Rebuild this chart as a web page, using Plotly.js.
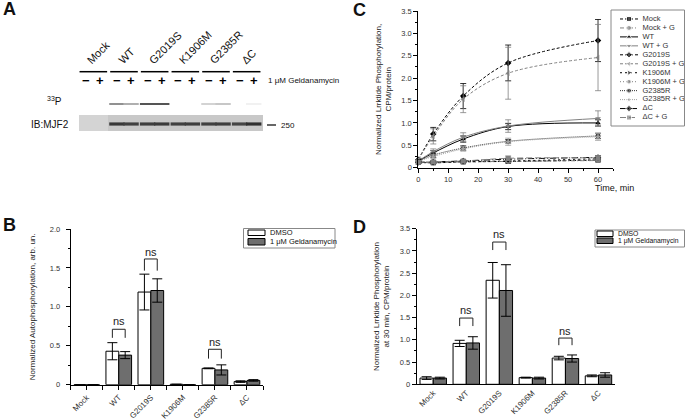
<!DOCTYPE html>
<html><head><meta charset="utf-8">
<script src="https://cdn.plot.ly/plotly-3.0.1.min.js"></script>
<style>html,body{margin:0;padding:0;background:#fff}#chart{width:686px;height:420px}</style>
</head><body><div id="chart"></div>
<script>
// ---------- Panel A: blot lanes ----------
const blotGroups = ['Mock', 'WT', 'G2019S', 'K1906M', 'G2385R', 'ΔC'];
const blotTreatments = ['−', '+'];
const p33Intensity = [0, 0, 0.55, 0.40, 0.85, 0.85, 0, 0, 0.22, 0.28, 0, 0.07];
const mjf2Intensity = [0, 0, 0.90, 0.85, 0.86, 0.88, 0.85, 0.86, 0.85, 0.86, 0.82, 0.95];

// ---------- Panel B: autophosphorylation ----------
const barCategories = ['Mock', 'WT', 'G2019S', 'K1906M', 'G2385R', 'ΔC'];
const autoDMSO = [0, 0.43, 1.19, 0.005, 0.21, 0.04];
const autoDMSOErr = [0, 0.11, 0.23, 0, 0.005, 0.01];
const autoGeld = [0, 0.38, 1.21, 0, 0.19, 0.055];
const autoGeldErr = [0, 0.045, 0.15, 0, 0.065, 0.01];

// ---------- Panel C: Lrrktide time course ----------
const timeMin = [0, 5, 15, 30, 60];
const kinMock = [0.12, 0.11, 0.13, 0.14, 0.17];
const kinMockG = [0.11, 0.11, 0.13, 0.14, 0.16];
const kinWT = [0.15, 0.33, 0.64, 0.92, 1.00];
const kinWTG = [0.15, 0.36, 0.68, 0.93, 1.10];
const kinG2019S = [0.18, 0.75, 1.60, 2.34, 2.84];
const kinG2019SG = [0.18, 0.70, 1.53, 2.11, 2.46];
const kinK1906M = [0.12, 0.12, 0.14, 0.15, 0.20];
const kinK1906MG = [0.12, 0.12, 0.14, 0.14, 0.18];
const kinG2385R = [0.14, 0.28, 0.44, 0.59, 0.71];
const kinG2385RG = [0.14, 0.25, 0.42, 0.58, 0.69];
const kinDC = [0.12, 0.13, 0.15, 0.19, 0.23];
const kinDCG = [0.12, 0.13, 0.15, 0.21, 0.22];
const errMock = [0.02, 0.02, 0.02, 0.03, 0.03];
const errMockG = [0.02, 0.02, 0.02, 0.02, 0.03];
const errWT = [0.02, 0.05, 0.07, 0.07, 0.07];
const errWTG = [0.02, 0.06, 0.10, 0.14, 0.17];
const errG2019S = [0.03, 0.15, 0.28, 0.40, 0.47];
const errG2019SG = [0.03, 0.17, 0.30, 0.58, 0.74];
const errK1906M = [0.02, 0.02, 0.02, 0.01, 0.03];
const errK1906MG = [0.02, 0.02, 0.02, 0.02, 0.03];
const errG2385R = [0.02, 0.05, 0.05, 0.04, 0.06];
const errG2385RG = [0.02, 0.04, 0.05, 0.08, 0.08];
const errDC = [0.02, 0.02, 0.02, 0.02, 0.04];
const errDCG = [0.02, 0.02, 0.02, 0.05, 0.05];
const kinNames = ['Mock', 'Mock + G', 'WT', 'WT + G', 'G2019S', 'G2019S + G', 'K1906M', 'K1906M + G', 'G2385R', 'G2385R + G', 'ΔC', 'ΔC + G'];

// ---------- Panel D: Lrrktide at 30 min ----------
const ltkDMSO = [0.14, 0.92, 2.34, 0.15, 0.59, 0.19];
const ltkDMSOErr = [0.03, 0.07, 0.40, 0.01, 0.04, 0.02];
const ltkGeld = [0.14, 0.93, 2.11, 0.14, 0.58, 0.21];
const ltkGeldErr = [0.02, 0.14, 0.58, 0.02, 0.08, 0.05];
const legendNames = ['DMSO', '1 μM Geldanamycin'];

// ---------- styles & helpers ----------
const W = 686, H = 420;
const PX = x => x / W;
const PY = y => 1 - y / H;
const FONT = 'Liberation Sans, Arial, sans-serif';
const DARK = '#000000', GREY = '#808080';
const whiteBar = '#ffffff', greyBar = '#6e6e6e';
const kinStyle = [
  {c: DARK, dash: '3px,2px', sym: 'square'},
  {c: GREY, dash: '4px,2px,1px,2px', sym: 'circle'},
  {c: DARK, dash: 'solid', sym: 'triangle-up'},
  {c: GREY, dash: 'solid', sym: 'triangle-down'},
  {c: DARK, dash: '3px,2px', sym: 'diamond'},
  {c: GREY, dash: '3px,2px', sym: 'triangle-left'},
  {c: DARK, dash: '2px,3px', sym: 'triangle-right'},
  {c: GREY, dash: '1px,2px', sym: 'hexagon'},
  {c: '#303030', dash: '1px,1px', sym: 'circle'},
  {c: '#a0a0a0', dash: '1px,1px', sym: 'star'},
  {c: DARK, dash: '6px,2px,1px,2px', sym: 'diamond'},
  {c: GREY, dash: '6px,3px', sym: 'square'}
];
const kinVals = [kinMock, kinMockG, kinWT, kinWTG, kinG2019S, kinG2019SG, kinK1906M, kinK1906MG, kinG2385R, kinG2385RG, kinDC, kinDCG];
const kinErrs = [errMock, errMockG, errWT, errWTG, errG2019S, errG2019SG, errK1906M, errK1906MG, errG2385R, errG2385RG, errDC, errDCG];

const traces = [];
const catIdx = barCategories.map((_, i) => i);

function barPair(xa, ya, v1, e1, v2, e2) {
  [[v1, e1, whiteBar, legendNames[0]], [v2, e2, greyBar, legendNames[1]]].forEach(([v, e, col, nm]) => {
    traces.push({
      type: 'bar', x: catIdx, y: v, name: nm, xaxis: xa, yaxis: ya, showlegend: false,
      marker: {color: col, line: {color: '#000', width: 1}},
      error_y: {type: 'data', array: e, visible: true, color: '#000', thickness: 1, width: 5}
    });
  });
}
barPair('x', 'y', autoDMSO, autoDMSOErr, autoGeld, autoGeldErr);
barPair('x3', 'y3', ltkDMSO, ltkDMSOErr, ltkGeld, ltkGeldErr);

// Panel C curves
kinVals.forEach((v, i) => {
  const s = kinStyle[i];
  traces.push({
    type: 'scatter', mode: 'lines+markers', x: timeMin, y: v, name: kinNames[i],
    xaxis: 'x2', yaxis: 'y2', showlegend: false, cliponaxis: false,
    line: {color: s.c, dash: s.dash, width: 1, shape: 'spline', smoothing: 1},
    marker: {symbol: s.sym, size: 5, color: s.c},
    error_y: {type: 'data', array: kinErrs[i], visible: true, color: s.c, thickness: 0.8, width: 3}
  });
});
// Panel C legend samples (own hidden axes)
kinNames.forEach((nm, i) => {
  const s = kinStyle[i];
  traces.push({
    type: 'scatter', mode: 'lines+markers', x: [0, 0.5, 1], y: [i, i, i], xaxis: 'x5', yaxis: 'y5',
    showlegend: false, hoverinfo: 'skip', cliponaxis: false,
    line: {color: s.c, dash: s.dash, width: 1},
    marker: {symbol: s.sym, size: [0, 5, 0], color: s.c}
  });
});
traces.push({
  type: 'scatter', mode: 'text', x: kinNames.map(() => 1.25), y: kinNames.map((_, i) => i), text: kinNames,
  textposition: 'middle right', textfont: {size: 7.5, color: '#333', family: FONT},
  xaxis: 'x5', yaxis: 'y5', showlegend: false, cliponaxis: false, hoverinfo: 'skip'
});

// Panel A bands
const laneX = [], laneLabel = [];
blotGroups.forEach((g, gi) => blotTreatments.forEach((t, ti) => {
  laneX.push(gi + (ti === 0 ? -0.23 : 0.23));
  laneLabel.push(t);
}));
const grey = a => { const v = Math.round(200 - 160 * a); return `rgba(${v},${v},${v},${a > 0 ? 1 : 0})`; };
const greyP = a => { const v = Math.round(255 - 200 * a); return `rgba(${v},${v},${v},${a > 0 ? 1 : 0})`; };
traces.push({
  type: 'scatter', mode: 'markers', x: laneX, y: laneX.map(() => 0.775), xaxis: 'x4', yaxis: 'y4',
  showlegend: false, hoverinfo: 'skip',
  marker: {symbol: 'line-ew', size: 11, line: {width: 2, color: p33Intensity.map(greyP)}}
});
traces.push({
  type: 'scatter', mode: 'markers', x: laneX, y: laneX.map(() => 0.275), xaxis: 'x4', yaxis: 'y4',
  showlegend: false, hoverinfo: 'skip',
  marker: {symbol: 'line-ew', size: 11, line: {width: 3.2, color: mjf2Intensity.map(grey)}}
});

// ---------- shapes & annotations ----------
const shapes = [], ann = [];
const tickFont = {size: 7.5, color: '#333', family: FONT};
function txt(x, y, text, size, opts) {
  ann.push(Object.assign({xref: 'paper', yref: 'paper', x: x, y: y, text: text, showarrow: false,
    font: {size: size, color: '#111', family: FONT}}, opts || {}));
}
// panel letters
txt(PX(1), PY(9), '<b>A</b>', 18, {xanchor: 'left', yanchor: 'middle'});
txt(PX(1), PY(225), '<b>B</b>', 18, {xanchor: 'left', yanchor: 'middle'});
txt(PX(351), PY(10), '<b>C</b>', 18, {xanchor: 'left', yanchor: 'middle'});
txt(PX(351), PY(226.5), '<b>D</b>', 18, {xanchor: 'left', yanchor: 'middle'});

// Panel A texts & lines
blotGroups.forEach((g, gi) => {
  ann.push({xref: 'x4', yref: 'paper', x: gi - 0.36, y: PY(69), text: g, showarrow: false, textangle: -45,
    xanchor: 'left', yanchor: 'bottom', font: {size: 11, color: '#111', family: FONT}});
  shapes.push({type: 'line', xref: 'x4', yref: 'paper', x0: gi - 0.45, x1: gi + 0.45, y0: PY(71.7), y1: PY(71.7),
    line: {color: '#000', width: 1.5}});
});
laneX.forEach((x, i) => {
  ann.push({xref: 'x4', yref: 'paper', x: x, y: PY(81), text: '<b>' + laneLabel[i] + '</b>', showarrow: false,
    xanchor: 'center', yanchor: 'middle', font: {size: 13, color: '#000', family: FONT}});
});
txt(PX(266), PY(81), '1 μM Geldanamycin', 8, {xanchor: 'left', yanchor: 'middle'});
txt(PX(64), PY(101), '<sup>33</sup>P', 10, {xanchor: 'right', yanchor: 'middle'});
txt(PX(71), PY(124), 'IB:MJF2', 10, {xanchor: 'right', yanchor: 'middle'});
txt(PX(279), PY(125.5), '250', 8, {xanchor: 'left', yanchor: 'middle'});
shapes.push({type: 'line', xref: 'paper', yref: 'paper', x0: PX(267), x1: PX(276), y0: PY(125), y1: PY(125), line: {color: '#000', width: 1.2}});
shapes.push({type: 'rect', xref: 'paper', yref: 'paper', x0: PX(79), x1: PX(263), y0: PY(131), y1: PY(115),
  fillcolor: '#c8c8c8', line: {width: 0}, layer: 'below'});
shapes.push({type: 'rect', xref: 'paper', yref: 'paper', x0: PX(79), x1: PX(108), y0: PY(131), y1: PY(115),
  fillcolor: '#d4d4d4', line: {width: 0}, layer: 'below'});

// ns brackets
function bracket(xa, ya, ci, top, leg, nsY) {
  const o = 0.2;
  shapes.push({type: 'path', xref: xa, yref: ya,
    path: `M ${ci - o} ${top - leg} L ${ci - o} ${top} L ${ci + o} ${top} L ${ci + o} ${top - leg}`,
    line: {color: '#222', width: 1}});
  ann.push({xref: xa, yref: ya, x: ci, y: nsY, text: 'ns', showarrow: false, xanchor: 'center', yanchor: 'middle',
    font: {size: 11, color: '#222', family: FONT}});
}
bracket('x', 'y', 1, 0.712, 0.11, 0.82);
bracket('x', 'y', 2, 1.615, 0.15, 1.71);
bracket('x', 'y', 4, 0.455, 0.12, 0.55);
bracket('x3', 'y3', 1, 1.49, 0.18, 1.67);
bracket('x3', 'y3', 2, 3.20, 0.18, 3.37);
bracket('x3', 'y3', 4, 1.04, 0.16, 1.20);

// bar legends
function barLegend(x0, y0, x1, y1, sw, rows, fs) {
  shapes.push({type: 'rect', xref: 'paper', yref: 'paper', x0: PX(x0), x1: PX(x1), y0: PY(y1), y1: PY(y0),
    line: {color: '#888', width: 1}, fillcolor: 'rgba(0,0,0,0)'});
  rows.forEach((r, i) => {
    shapes.push({type: 'rect', xref: 'paper', yref: 'paper', x0: PX(sw[0]), x1: PX(sw[1]), y0: PY(r[1]), y1: PY(r[0]),
      line: {color: '#000', width: 1}, fillcolor: i === 0 ? whiteBar : greyBar});
    txt(PX(sw[1] + 2.5), PY((r[0] + r[1]) / 2), legendNames[i], fs, {xanchor: 'left', yanchor: 'middle'});
  });
}
barLegend(243.5, 228.5, 335, 248, [248, 265], [[230, 235.5], [238.5, 245]], 7.5);
barLegend(595, 230, 684.5, 247, [597, 613], [[231, 236.5], [238, 243.5]], 6.8);
// C legend box
shapes.push({type: 'rect', xref: 'paper', yref: 'paper', x0: PX(611), x1: PX(684.5), y0: PY(126), y1: PY(10),
  line: {color: '#888', width: 1}, fillcolor: 'rgba(0,0,0,0)'});
txt(PX(614), PY(188.5), 'Time, min', 9, {xanchor: 'center', yanchor: 'middle'});

// ---------- axes ----------
const baseAx = {showline: true, linecolor: '#000', linewidth: 1, zeroline: false, showgrid: false,
  ticks: 'outside', ticklen: 4, tickcolor: '#000', tickfont: tickFont, fixedrange: true};
const yLab = {tickformat: '.1f', labelalias: {'0.0': '0'}, dtick: 0.5, tick0: 0,
  minor: {dtick: 0.25, ticks: 'outside', ticklen: 2, tickcolor: '#000'}};
const catAx = {tickmode: 'array', tickvals: catIdx, ticktext: barCategories, tickangle: -45, range: [-0.5, 5.5],
  tickfont: {size: 8, color: '#333', family: FONT}};
const titleFont = {size: 8, color: '#222', family: FONT};

const layout = {
  width: W, height: H, margin: {l: 0, r: 0, t: 0, b: 0},
  paper_bgcolor: '#fff', plot_bgcolor: 'rgba(0,0,0,0)', showlegend: false,
  font: {family: FONT, color: '#222'},
  barmode: 'group', bargap: 0.2, bargroupgap: 0,
  xaxis: Object.assign({}, baseAx, catAx, {domain: [PX(70.7), PX(263)], anchor: 'y',
    minor: {tickvals: [-0.5, 0.5, 1.5, 2.5, 3.5, 4.5, 5.5], ticks: 'outside', ticklen: 4, tickcolor: '#000'}}),
  yaxis: Object.assign({}, baseAx, yLab, {domain: [PY(384.7), PY(229)], range: [0, 2], anchor: 'x',
    ticklabelstandoff: 4,
    title: {text: 'Normalized Autophosphorylation, arb. un.', font: titleFont, standoff: 12}}),
  xaxis2: Object.assign({}, baseAx, {domain: [PX(418.3), PX(613)], range: [0, 65], anchor: 'y2',
    dtick: 10, tick0: 0, minor: {dtick: 5, ticks: 'outside', ticklen: 2, tickcolor: '#000'}}),
  yaxis2: Object.assign({}, baseAx, yLab, {domain: [PY(167.7), PY(11)], range: [0, 3.5], anchor: 'x2',
    title: {text: 'Normalized Lrrktide Phosphorylation,<br>CPM/protein', font: titleFont, standoff: 8}}),
  xaxis3: Object.assign({}, baseAx, catAx, {domain: [PX(416.7), PX(615)], anchor: 'y3', ticks: ''}),
  yaxis3: Object.assign({}, baseAx, yLab, {domain: [PY(384.3), PY(228.7)], range: [0, 3.5], anchor: 'x3',
    title: {text: 'Normalized Lrrktide Phosphorylation<br>at 30 min, CPM/protein', font: titleFont, standoff: 8}}),
  xaxis4: {domain: [PX(78), PX(262)], range: [-0.5, 5.5], visible: false, anchor: 'y4', fixedrange: true},
  yaxis4: {domain: [PY(135), PY(95)], range: [0, 1], visible: false, anchor: 'x4', fixedrange: true},
  xaxis5: {domain: [PX(620), PX(647)], range: [0, 1.5], visible: false, anchor: 'y5', fixedrange: true},
  yaxis5: {domain: [PY(122), PY(14.5)], range: [11.5, -0.5], visible: false, anchor: 'x5', fixedrange: true},
  shapes: shapes, annotations: ann
};

Plotly.newPlot('chart', traces, layout, {displayModeBar: false, staticPlot: true});
</script>
</body></html>
